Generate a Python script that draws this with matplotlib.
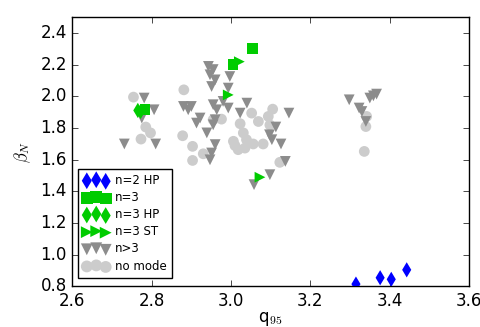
import matplotlib
matplotlib.use('Agg')
import matplotlib.pyplot as plt

plt.style.use('classic')

# n=2 HP
q_n2hp = [3.315, 3.376, 3.404, 3.443]
b_n2hp = [0.815, 0.855, 0.845, 0.905]
# n=3
q_n3 = [3.055, 3.005, 2.783]
b_n3 = [2.305, 2.204, 1.918]
# n=3 HP
q_n3hp = [2.765, 2.772]
b_n3hp = [1.912, 1.905]
# n=3 ST
q_n3st = [3.021, 2.993, 3.073]
b_n3st = [2.22, 2.01, 1.49]
# n>3
q_ngt3 = [2.781, 2.806, 2.775, 2.731, 2.81,
          2.943, 2.955, 2.947, 2.96, 2.997, 2.951, 2.993,
          2.88, 2.9, 2.892, 2.922, 2.913, 2.939, 2.955, 2.964, 2.96, 2.955,
          2.98, 2.993, 3.023, 3.04, 2.96, 2.951, 2.947,
          3.146, 3.113, 3.097, 3.103, 3.126, 3.137, 3.098, 3.058,
          3.298, 3.323, 3.33, 3.34, 3.35, 3.359, 3.367]
b_ngt3 = [1.99, 1.916, 1.864, 1.70, 1.70,
          2.19, 2.17, 2.137, 2.105, 2.126, 2.063, 2.053,
          1.937, 1.937, 1.916, 1.864, 1.832, 1.77, 1.948, 1.916, 1.853, 1.821,
          1.969, 1.927, 1.895, 1.958, 1.696, 1.643, 1.60,
          1.895, 1.807, 1.758, 1.727, 1.70, 1.59, 1.506, 1.443,
          1.979, 1.927, 1.905, 1.842, 1.99, 2.004, 2.015]
# no mode
q_none = [2.754, 2.785, 2.797, 2.773, 2.881, 2.878, 2.903, 2.903, 2.93,
          2.976, 2.955, 3.023, 3.052, 3.069, 3.105, 3.094, 3.098,
          3.031, 3.006, 3.018, 3.039, 3.056, 3.081, 3.035, 3.01, 3.123,
          3.342, 3.34, 3.336]
b_none = [1.996, 1.807, 1.77, 1.731, 2.042, 1.752, 1.685, 1.596, 1.638,
          1.857, 1.853, 1.828, 1.895, 1.842, 1.92, 1.874, 1.82,
          1.77, 1.717, 1.664, 1.727, 1.70, 1.70, 1.674, 1.69, 1.584,
          1.874, 1.81, 1.653]

fig = plt.figure(figsize=(4.81, 3.27), dpi=100, facecolor='white')
ax = fig.add_axes([0.1505, 0.124, 0.8245, 0.823])

s = 60
ax.scatter(q_n2hp, b_n2hp, s=s, marker='d', c='#0000ff', edgecolors='none', label='n=2 HP', zorder=5)
ax.scatter(q_n3, b_n3, s=s, marker='s', c='#00cc00', edgecolors='none', label='n=3', zorder=5)
ax.scatter(q_n3hp, b_n3hp, s=s, marker='d', c='#00cc00', edgecolors='none', label='n=3 HP', zorder=5)
ax.scatter(q_n3st, b_n3st, s=s, marker='>', c='#00cc00', edgecolors='none', label='n=3 ST', zorder=5)
ax.scatter(q_ngt3, b_ngt3, s=s, marker='v', c='#8c8c8c', edgecolors='none', label='n>3', zorder=3)
ax.scatter(q_none, b_none, s=s, marker='o', c='#cccccc', edgecolors='none', label='no mode', zorder=2)

ax.set_xlim(2.6, 3.6)
ax.set_ylim(0.8, 2.5)
ax.set_xticks([2.6, 2.8, 3.0, 3.2, 3.4, 3.6])
ax.set_yticks([0.8, 1.0, 1.2, 1.4, 1.6, 1.8, 2.0, 2.2, 2.4])
ax.tick_params(labelsize=12)
ax.set_xlabel(r'q$_{95}$', fontsize=12, labelpad=0)
ax.set_ylabel(r'$\beta_N$', fontsize=12)

ax.legend(loc='lower left', bbox_to_anchor=(0.014, 0.032), borderaxespad=0,
          scatterpoints=3, fontsize=8.5, handletextpad=0.5, labelspacing=0.35,
          handlelength=2.2, borderpad=0.45, markerscale=1.1)

fig.savefig('out.png', dpi=100, facecolor='white')
